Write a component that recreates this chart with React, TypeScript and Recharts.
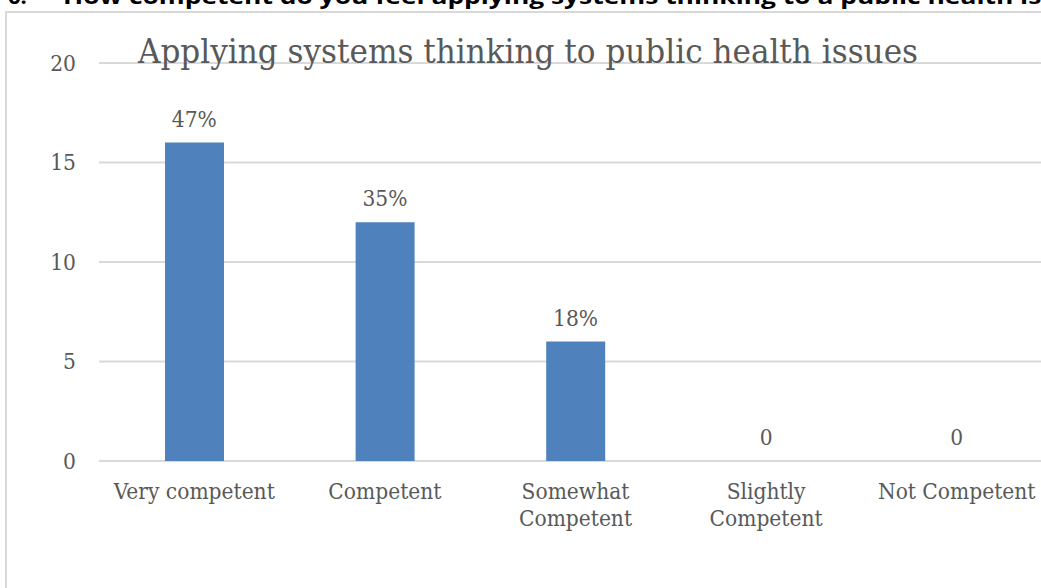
import { ComposedChart, Bar, Line, XAxis, YAxis, CartesianGrid, LabelList } from 'recharts';

// category tick labels, split the way the original wraps them
const categoryLines = [
  ['Very competent'],
  ['Competent'],
  ['Somewhat', 'Competent'],
  ['Slightly', 'Competent'],
  ['Not Competent'],
];
const counts = [16, 12, 6, 0, 0];
const pctLabels = ['47%', '35%', '18%', '0', '0'];
const yTicks = [0, 5, 10, 15, 20];

const chartTitle = 'Applying systems thinking to public health issues';
const questionNo = '6.';
const question = 'How competent do you feel applying systems thinking to a public health issues?';

const data = categoryLines.map((lines, i) => ({
  name: lines.join(' '),
  value: counts[i],
  label: pctLabels[i],
}));

const SERIF = "'DejaVu Serif Condensed', 'DejaVu Serif', serif";
const GRAY = '#595959';
const FS = 22.5;

function CategoryTick(props: any) {
  const { x, y, index } = props;
  const lines = categoryLines[index] || [];
  return (
    <text x={x} y={y + 30} textAnchor="middle" fill={GRAY} fontSize={FS} fontFamily={SERIF}>
      {lines.map((l, i) => (
        <tspan key={i} x={x} dy={i === 0 ? 0 : 27}>
          {l}
        </tspan>
      ))}
    </text>
  );
}

export default function App() {
  return (
    <div
      style={{
        position: 'absolute',
        left: 0,
        top: 0,
        width: 1041,
        height: 588,
        overflow: 'hidden',
        background: '#fff',
      }}
    >
      {/* cut-off question heading above the chart box */}
      <svg width={1041} height={20} style={{ position: 'absolute', left: 0, top: 0 }}>
        <text x={8} y={4} fontSize={22} fontWeight={700} fontFamily="'Open Sans', sans-serif" fill="#000">
          {questionNo}
        </text>
        <text
          x={63}
          y={4}
          fontSize={22}
          fontWeight={700}
          fontFamily="'Open Sans', sans-serif"
          fill="#000"
          textLength={1050}
          lengthAdjust="spacingAndGlyphs"
        >
          {question}
        </text>
      </svg>

      {/* chart frame */}
      <div
        style={{
          position: 'absolute',
          left: 5,
          top: 11,
          width: 1200,
          height: 800,
          border: '2px solid #d9d9d9',
        }}
      />

      <div style={{ position: 'absolute', left: 0, top: 0 }}>
        <ComposedChart
          width={1060}
          height={600}
          data={data}
          margin={{ top: 63, right: 8, bottom: 79, left: 0 }}
        >
          <CartesianGrid vertical={false} stroke="#d9d9d9" strokeWidth={2} />
          <YAxis
            width={99}
            domain={[0, 20]}
            ticks={yTicks}
            axisLine={false}
            tickLine={false}
            tickMargin={17}
            tick={{ fill: GRAY, fontSize: FS, fontFamily: SERIF }}
          />
          <XAxis
            dataKey="name"
            height={60}
            axisLine={false}
            tickLine={false}
            interval={0}
            tick={<CategoryTick />}
          />
          <Bar dataKey="value" fill="#4f81bd" barSize={59} isAnimationActive={false} />
          {/* invisible carrier for the data labels, so zero bars get theirs too */}
          <Line
            dataKey="value"
            stroke="none"
            dot={false}
            activeDot={false}
            legendType="none"
            isAnimationActive={false}
          >
            <LabelList
              dataKey="label"
              position="top"
              offset={16}
              fill={GRAY}
              fontSize={FS}
              fontFamily={SERIF}
            />
          </Line>
        </ComposedChart>
      </div>

      {/* chart title sits over the top gridline */}
      <svg width={1041} height={90} style={{ position: 'absolute', left: 0, top: 0 }}>
        <text
          x={528}
          y={63}
          textAnchor="middle"
          fontSize={33}
          fontFamily={SERIF}
          fill={GRAY}
          textLength={780}
          lengthAdjust="spacingAndGlyphs"
        >
          {chartTitle}
        </text>
      </svg>
    </div>
  );
}
